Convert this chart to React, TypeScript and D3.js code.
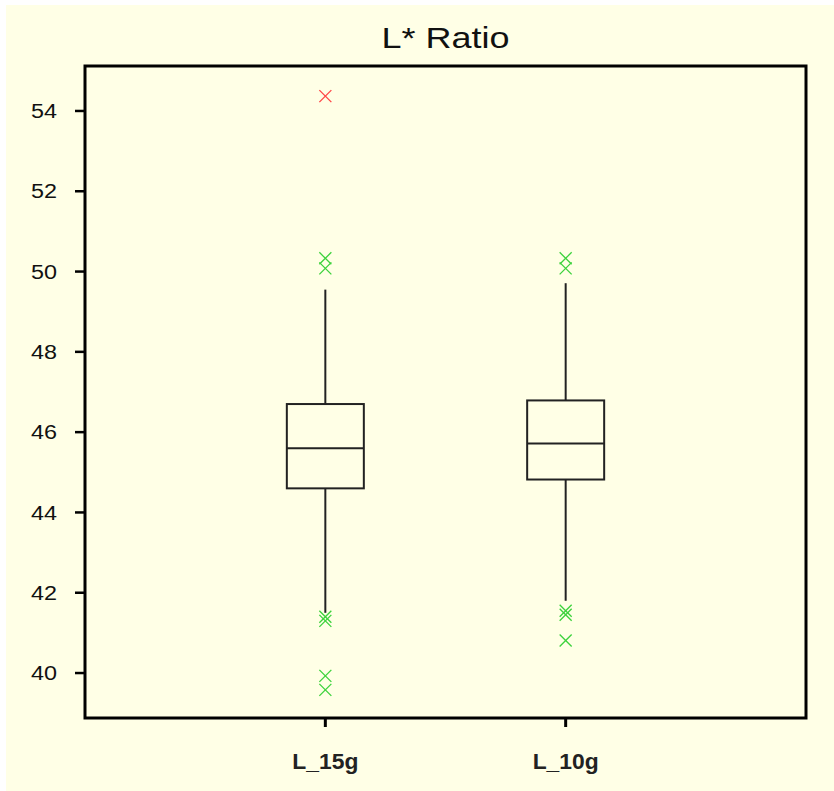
import * as d3 from "d3";

// groups and their box statistics
const groups = ["L_15g", "L_10g"];
const lowWhisker = [41.5, 41.8];
const q1 = [44.6, 44.82];
const median = [45.6, 45.72];
const q3 = [46.7, 46.79];
const highWhisker = [49.55, 49.71];

// mild outliers (green) and extreme outliers (red), per group
const mildOutliers = [
  [50.33, 50.08, 41.4, 41.3, 39.93, 39.58],
  [50.33, 50.08, 41.55, 41.45, 40.81],
];
const extremeOutliers = [[54.37], []];

const yTicks = [40, 42, 44, 46, 48, 50, 52, 54];
const title = "L* Ratio";

export default function App() {
  const width = 834;
  const height = 791;
  const marginLeft = 85;
  const marginRight = 28;
  const marginTop = 66;
  const marginBottom = 73;

  const x = d3.scalePoint()
    .domain(groups)
    .range([marginLeft, width - marginRight])
    .padding(1);

  const y = d3.scaleLinear()
    .domain([38.88, 55.12])
    .range([height - marginBottom, marginTop]);

  const boxW = 77;
  const mark = 6;

  const cross = (cx, cy, color, key) => (
    <g key={key} stroke={color} strokeWidth={1.3}>
      <line x1={cx - mark} y1={cy - mark} x2={cx + mark} y2={cy + mark} />
      <line x1={cx - mark} y1={cy + mark} x2={cx + mark} y2={cy - mark} />
    </g>
  );

  return (
    <svg width={width} height={height} style={{ position: "absolute", left: 0, top: 0 }}
      fontFamily="'Liberation Sans', Arial, sans-serif">
      <rect x={0} y={0} width={width} height={height} fill="#fff" />
      <rect x={6} y={5} width={width - 6} height={height - 5} fill="#FFFFE6" />

      <text x={(marginLeft + width - marginRight) / 2} y={48} textAnchor="middle" fontSize={30}
        textLength={128} lengthAdjust="spacingAndGlyphs" fill="#111">{title}</text>

      {/* y axis ticks */}
      {yTicks.map(t => (
        <g key={t} transform={`translate(0,${y(t)})`}>
          <line x1={marginLeft - 10} x2={marginLeft} stroke="#000" strokeWidth={2.5} />
          <text x={57} dy="0.36em" textAnchor="end" fontSize={20} textLength={26}
            lengthAdjust="spacingAndGlyphs" fill="#111">{t}</text>
        </g>
      ))}

      {/* x axis ticks */}
      {groups.map(g => (
        <g key={g} transform={`translate(${x(g)},${height - marginBottom})`}>
          <line y1={0} y2={9} stroke="#000" strokeWidth={3} />
          <text y={51} textAnchor="middle" fontSize={22} fontWeight="bold" textLength={66}
            lengthAdjust="spacingAndGlyphs" fill="#222">{g}</text>
        </g>
      ))}

      {/* boxes */}
      {groups.map((g, i) => {
        const cx = x(g);
        return (
          <g key={g} stroke="#222" strokeWidth={2} fill="none">
            <line x1={cx} x2={cx} y1={y(highWhisker[i])} y2={y(q3[i])} />
            <line x1={cx} x2={cx} y1={y(q1[i])} y2={y(lowWhisker[i])} />
            <rect x={cx - boxW / 2} y={y(q3[i])} width={boxW} height={y(q1[i]) - y(q3[i])} />
            <line x1={cx - boxW / 2} x2={cx + boxW / 2} y1={y(median[i])} y2={y(median[i])} />
            {mildOutliers[i].map((v, j) => cross(cx, y(v), "#3CD23C", `m${j}`))}
            {extremeOutliers[i].map((v, j) => cross(cx, y(v), "#FF4545", `e${j}`))}
          </g>
        );
      })}

      {/* frame */}
      <rect x={marginLeft} y={marginTop} width={width - marginLeft - marginRight}
        height={height - marginTop - marginBottom} fill="none" stroke="#000" strokeWidth={3} />
    </svg>
  );
}
